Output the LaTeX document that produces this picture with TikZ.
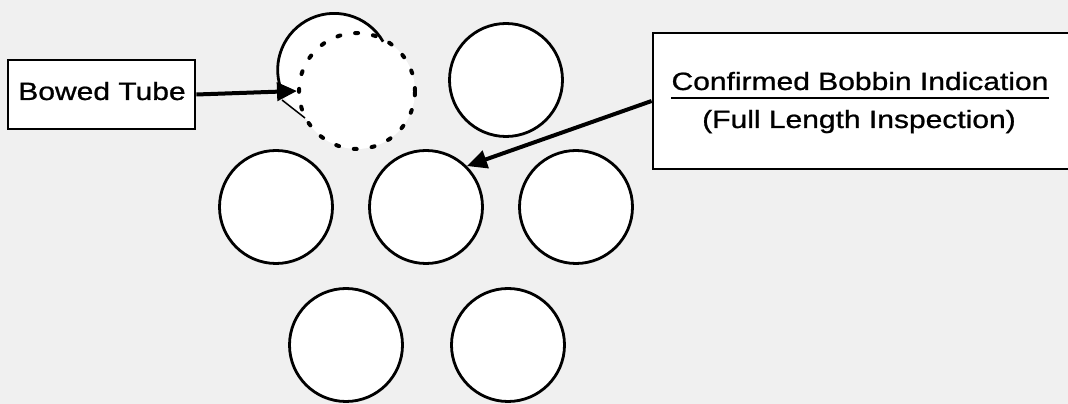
\documentclass[tikz,border=0pt]{standalone}
\usepackage{graphicx}
\usepackage{fontspec}
\setmainfont[FakeBold=0.8]{Liberation Sans}
\usetikzlibrary{arrows.meta}
\begin{document}
\begin{tikzpicture}[x=1pt,y=1pt,
  tube/.style={circle, draw=black, fill=white, line width=2.8pt, minimum size=113pt, inner sep=0pt},
  dashtube/.style={circle, draw=black, fill=white, line width=4pt, dash pattern=on 3pt off 15pt, line cap=round, minimum size=116pt, inner sep=0pt},
  labelbox/.style={draw=black, fill=white, line width=2.8pt, inner sep=0pt},
  lbl/.style={font=\fontsize{25}{30}\selectfont, inner sep=0pt, anchor=base},
  pointer/.style={line width=4pt, -{Triangle[length=20pt,width=18pt]}}]
\clip (0,0) rectangle (1068,404);
\fill[gray!12] (0,0) rectangle (1068,404);
% bowed tube (original position) and its displaced outline
\node[circle, fill=white, minimum size=113pt, inner sep=0pt] (bowc) at (334,334) {};
\node[dashtube] (dash) at (357,313) {};
\draw[line width=2.8pt] (bowc.30) arc[start angle=30, end angle=205, radius=56.5pt];
% other tubes
\node[tube] (t12) at (506,324) {};
\node[tube] (t21) at (276,197) {};
\node[tube] (t22) at (426,197) {};
\node[tube] (t23) at (576,197) {};
\node[tube] (t31) at (346,59) {};
\node[tube] (t32) at (508,59) {};
% label boxes
\node[labelbox, minimum width=187pt, minimum height=69pt] (bowed) at (101.5,309.5) {};
\node[lbl] (bowedtxt) at (102,304) {\scalebox{1.2}[1]{Bowed Tube}};
\node[labelbox, minimum width=422pt, minimum height=136pt] (bobbin) at (864,303) {};
\node[lbl] (t1) at (860,314) {\scalebox{1.2}[1]{Confirmed Bobbin Indication}};
\node[lbl] (t2) at (859,276) {\scalebox{1.2}[1]{(Full Length Inspection)}};
\draw[line width=2pt] ([yshift=-8pt]t1.base west) -- ([yshift=-8pt]t1.base east);
% pointers
\draw[pointer] (bowed.east) -- (dash.west);
\coordinate (a1) at (282,304);
\coordinate (a2) at (305,286);
\draw[line width=1.5pt] (a1) -- (a2);
\draw[pointer] (bobbin.west) -- (t22.45);
\end{tikzpicture}
\end{document}
